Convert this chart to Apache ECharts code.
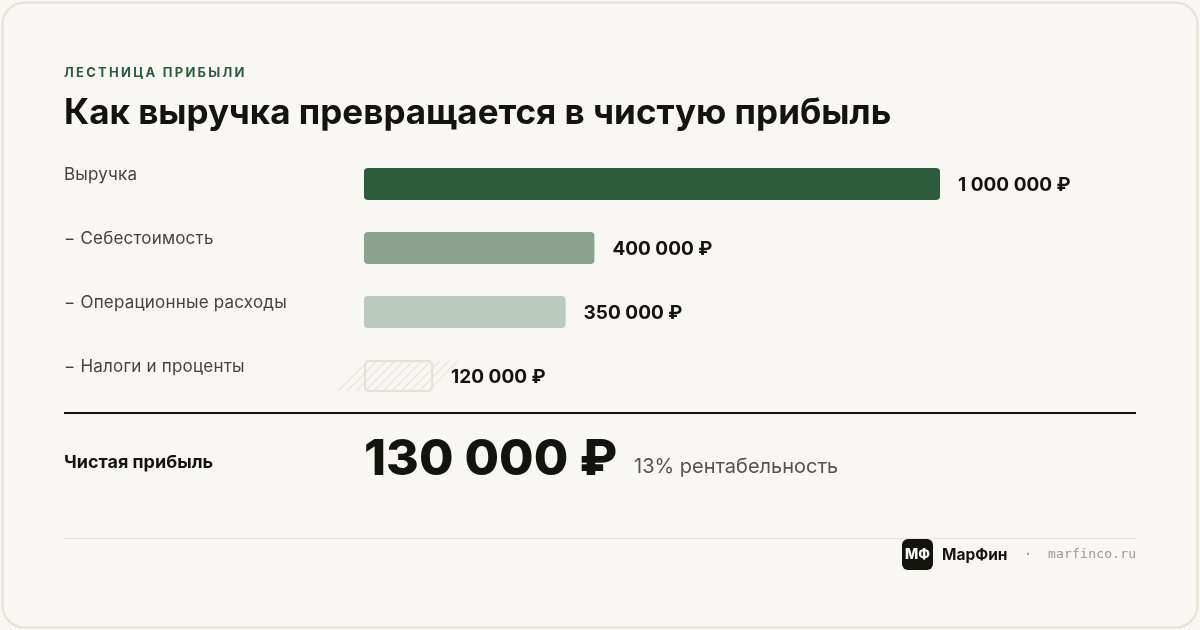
<!DOCTYPE html>
<html><head><meta charset="utf-8">
<style>html,body{margin:0;padding:0;background:#f8f7f3}#c{width:1200px;height:630px}</style>
<script src="https://cdn.jsdelivr.net/npm/echarts@6/dist/echarts.min.js"></script>
</head><body><div id="c"></div>
<script>
const categories = ['Выручка','− Себестоимость','− Операционные расходы','− Налоги и проценты'];
const values = [1000000,400000,350000,120000];
const valueLabels = ['1 000 000 ₽','400 000 ₽','350 000 ₽','120 000 ₽'];
const barColors = ['#2d5c3d','#8aa391','#bbcabf','transparent'];
const eyebrow = 'ЛЕСТНИЦА ПРИБЫЛИ';
const heading = 'Как выручка превращается в чистую прибыль';
const netLabel = 'Чистая прибыль';
const netValue = '130 000 ₽';
const netNote = '13% рентабельность';
const site = 'marfinco.ru';
const F = 'Inter, "Noto Sans", sans-serif';
const M = '"DejaVu Sans Mono", monospace';
const INK = '#14140f';
// letter spacing per text (the canvas supports it, zrender does not expose it)
const tracking = new Map([[eyebrow,'2.27px'],[site,'0.2px']]);
categories.forEach(c => tracking.set(c,'0.2px'));
const origFill = CanvasRenderingContext2D.prototype.fillText;
CanvasRenderingContext2D.prototype.fillText = function(t,x,y,w){
  const ls = tracking.get(t);
  if (ls) this.letterSpacing = ls;
  const r = w===undefined ? origFill.call(this,t,x,y) : origFill.call(this,t,x,y,w);
  if (ls) this.letterSpacing = '0px';
  return r;
};
const chart = echarts.init(document.getElementById('c'), null, {renderer:'canvas'});
const txt = (x,y,text,size,weight,fill,extra) => ({type:'text',x,y,silent:true,style:Object.assign({text,fontFamily:F,fontSize:size,fontWeight:weight,fill,textVerticalAlign:'middle'},extra||{})});
chart.setOption({
  animation:false,
  backgroundColor:'#f8f7f3',
  grid:{left:364,top:152,width:576,height:256,containLabel:false},
  xAxis:{type:'value',min:0,max:1000000,show:false},
  yAxis:{type:'category',inverse:true,data:categories,
    axisLine:{show:false},axisTick:{show:false},splitLine:{show:false},
    axisLabel:{align:'left',verticalAlign:'bottom',lineHeight:18,margin:300,fontFamily:F,fontSize:17,color:'#44443e'}},
  series:[
   {type:'custom',coordinateSystem:'cartesian2d',z:1,silent:true,data:[[values[3],categories[3]]],
    renderItem(params,api){
      const start=api.coord([0,api.value(1)]), end=api.coord([api.value(0),api.value(1)]);
      const top=start[1]-15,bottom=start[1]+15,rise=bottom-top;
      const kids=[];
      for(let x=start[0]-26;x<end[0]-5;x+=9){
        kids.push({type:'line',shape:{x1:x,y1:bottom,x2:x+rise,y2:top},style:{stroke:'#e8e7de',lineWidth:1.2}});
      }
      return {type:'group',children:kids};
    }},
   {type:'bar',barWidth:32,z:2,silent:true,
    data:values.map((v,i)=>({value:v,itemStyle:{color:barColors[i],borderRadius:4,
       borderColor:i===3?'#e4e3d8':'transparent',borderWidth:i===3?2:0}})),
    label:{show:true,position:'right',distance:18,offset:[0,1],fontFamily:F,fontSize:19,fontWeight:700,color:INK,
       formatter:p=>valueLabels[p.dataIndex]}}
  ],
  graphic:[
    {type:'rect',shape:{x:2.5,y:2.5,width:1195,height:625,r:22},style:{fill:'transparent',stroke:'#e4e3d8',lineWidth:2},z:-1,silent:true},
    txt(64,73,eyebrow,13,700,'#2d5c3d'),
    txt(64,113,heading,35,700,INK),
    {type:'line',shape:{x1:64,y1:413,x2:1136,y2:413},style:{stroke:INK,lineWidth:2},silent:true},
    txt(64,463,netLabel,18,700,INK),
    txt(364,460,netValue,50,800,INK),
    txt(634,467,netNote,20,400,'#55554f'),
    {type:'line',shape:{x1:64,y1:538.5,x2:1136,y2:538.5},style:{stroke:'#e6e5dc',lineWidth:1},silent:true},
    {type:'rect',shape:{x:902,y:539,width:31,height:31,r:6},style:{fill:INK},silent:true},
    txt(917.5,555,'МФ',14,800,'#f8f7f3',{textAlign:'center'}),
    txt(942,555,'МарФин',15.5,700,INK),
    txt(1028,555,'·',14,400,'#999890',{textAlign:'center',fontFamily:M}),
    txt(1048,555,site,13,400,'#999890',{fontFamily:M})
  ]
});
</script></body></html>
